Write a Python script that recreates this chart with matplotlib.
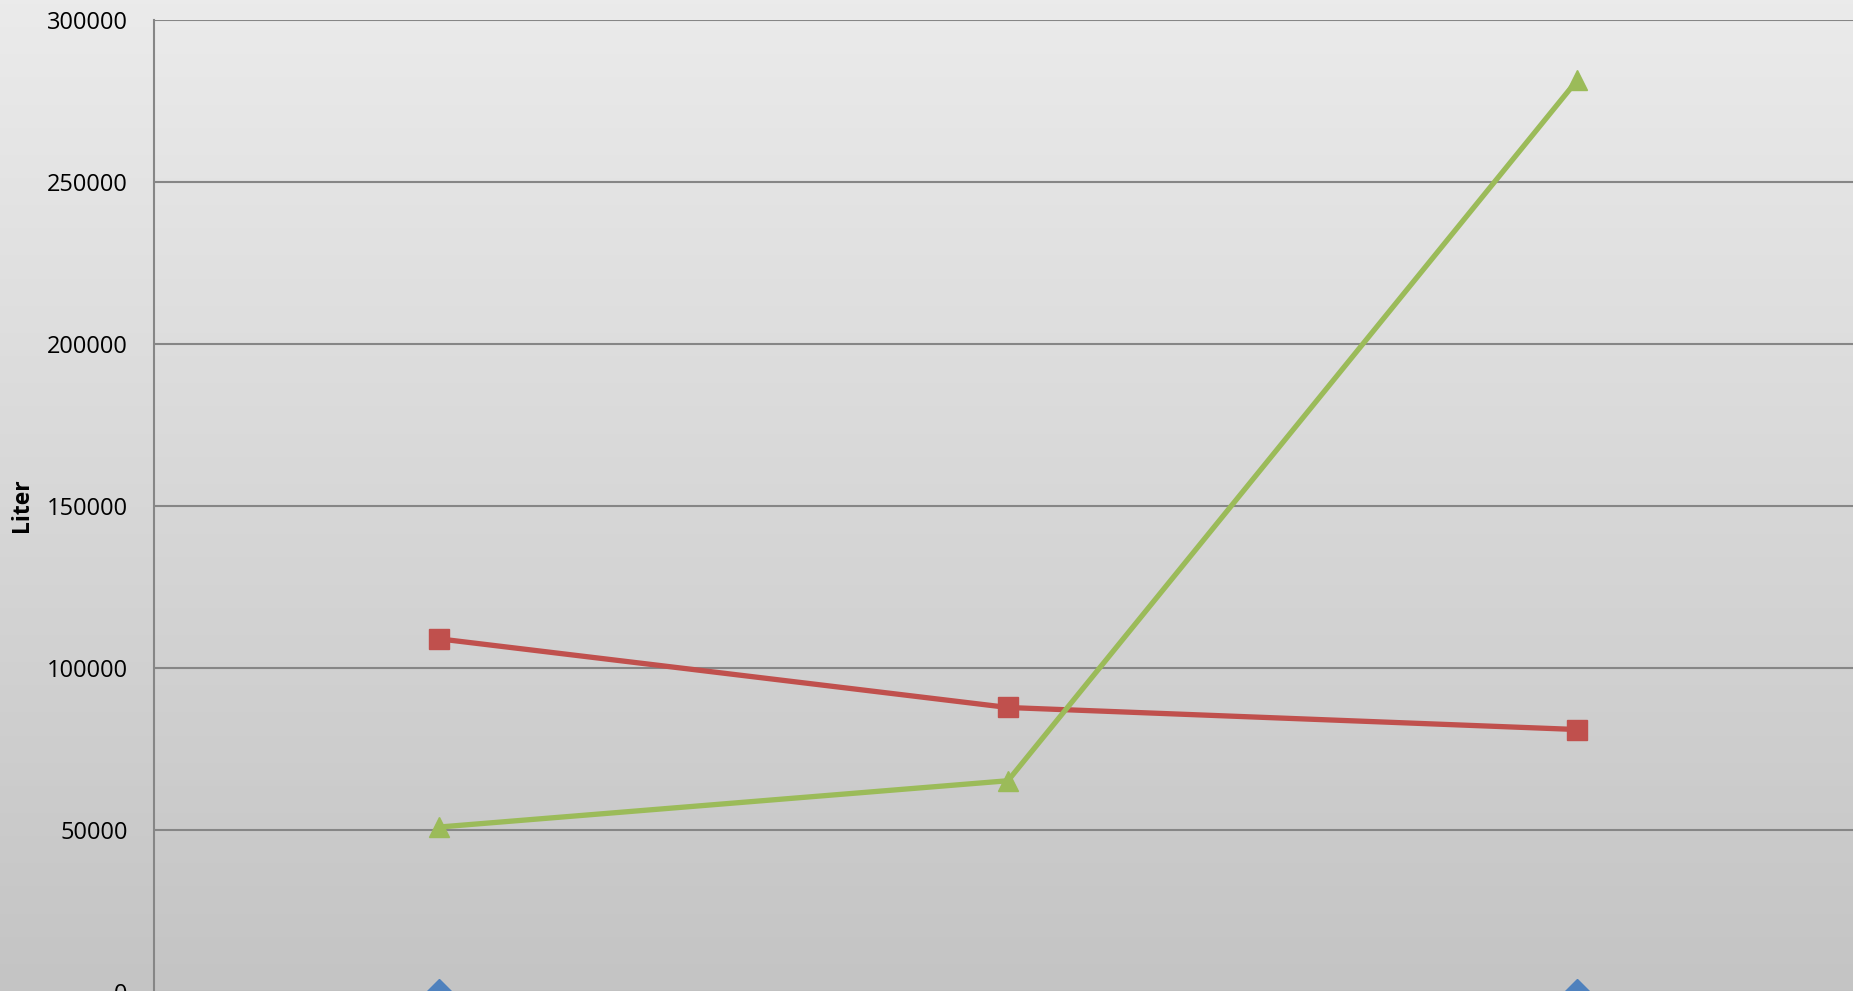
import numpy as np
import matplotlib
matplotlib.use("Agg")
import matplotlib.pyplot as plt

# data (category labels are cut off in the picture)
categories = ["1", "2", "3"]
blue_vals = [0, np.nan, 0]
red_vals = [108900, 87700, 80900]
green_vals = [50800, 65100, 281300]
yticks = [0, 50000, 100000, 150000, 200000, 250000, 300000]

plt.rcParams['font.family'] = ['Open Sans', 'DejaVu Sans']

fig = plt.figure(figsize=(18.53, 9.91), dpi=100)

# gray gradient background over the whole figure
bg = fig.add_axes([0, 0, 1, 1], zorder=-10)
grad = np.linspace(235, 196, 256).reshape(-1, 1) / 255.0
bg.imshow(np.dstack([grad, grad, grad]), aspect='auto', extent=[0, 1, 0, 1])
bg.set_axis_off()

ax = fig.add_axes([0.0831, -0.0007, 0.9217, 0.981])
ax.patch.set_alpha(0)

x = np.arange(len(categories))
ax.plot(x, blue_vals, color='#4F81BD', lw=3.8, marker='D', ms=13,
        clip_on=False, zorder=3)
ax.plot(x, red_vals, color='#C0504D', lw=3.8, marker='s', ms=14.4,
        clip_on=False, zorder=3)
ax.plot(x, green_vals, color='#9BBB59', lw=3.8, marker='^', ms=14.4,
        clip_on=False, zorder=3)

ax.set_xlim(-0.5, 2.5)
ax.set_ylim(0, 300000)
ax.set_yticks(yticks)
ax.set_yticklabels([str(v) for v in yticks])
ax.set_xticks([])
ax.tick_params(axis='y', length=0, pad=19, labelsize=17, labelcolor='black')
ax.grid(axis='y', color='#868686', lw=1.5, zorder=1)
ax.set_axisbelow(True)

for s in ['top', 'right', 'bottom']:
    ax.spines[s].set_visible(False)
ax.spines['left'].set_color('#868686')
ax.spines['left'].set_linewidth(1.5)

ax.set_ylabel('Liter', fontsize=16.5, fontweight='bold')
ax.yaxis.set_label_coords(-0.0705, 0.5)

fig.savefig('out.png', dpi=100)
